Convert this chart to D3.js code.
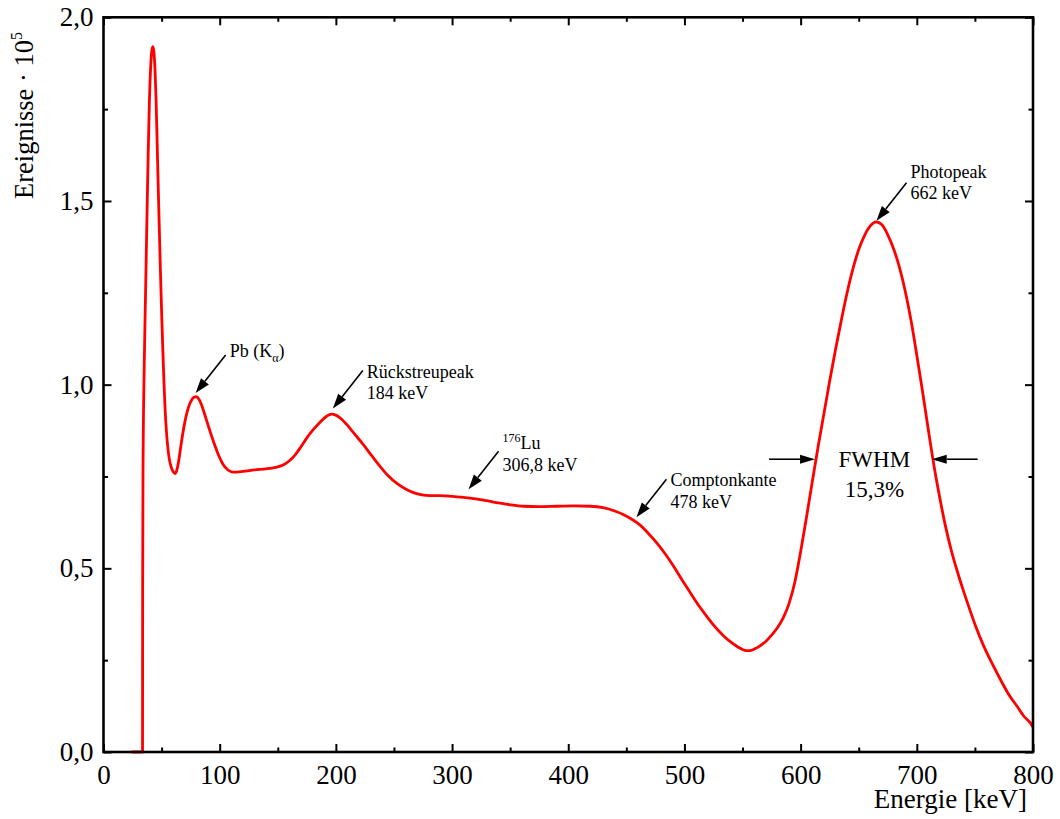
<!DOCTYPE html>
<html>
<head>
<meta charset="utf-8">
<script src="https://cdn.jsdelivr.net/npm/d3@7"></script>
<style>
  html, body { margin: 0; padding: 0; background: #fff; }
  svg text { font-family: "Liberation Serif", "Times New Roman", serif; fill: #000; }
</style>
</head>
<body>
<svg id="chart" width="1060" height="819"></svg>
<script>
// Gamma spectrum of a Cs-137 source: energy (keV) and counts (x 10^5)
const energy = [
  24, 33.6, 33.7, 34.0, 35.1, 36.2, 37.2, 38.4, 39.5, 40.6, 41.6, 42.5, 43.4, 44.3, 45.2, 46.1,
  47.0, 48.0, 49.0, 50.0, 51.0, 52.0, 53.0, 54.0, 55.0, 56.5, 58.0, 60.0, 61.6, 63.0, 64.5, 66.0,
  68.0, 70.0, 72.0, 74.0, 76.0, 78.0, 80.0, 82.0, 84.0, 86.0, 88.0, 90.0, 92.0, 94.0, 96.0, 98.0,
  100.0, 102.0, 104.0, 106.0, 108.0, 111.5, 120, 130, 140, 145, 150, 155, 160, 165, 170, 175,
  180.7, 187, 192, 196, 200, 205, 209.5, 216, 223.8, 231, 238.2, 245, 252.5, 260, 266.8, 274,
  281, 290, 300, 310, 318.5, 330, 340, 350, 361.6, 375, 390.3, 405, 419, 430, 440, 447.7,
  455, 462.1, 469, 476.5, 484, 490.8, 498, 505.2, 512, 519.5, 526, 533.8, 540, 546, 550, 553,
  556, 560, 565, 570, 575, 580, 585, 590, 595, 600, 605, 610, 615, 620, 625, 630,
  635, 640, 645, 650, 655, 660, 665, 670, 675, 680, 685, 690, 695, 700, 705, 710,
  715, 720, 725, 730, 735, 740, 745, 750, 757.8, 765, 772.2, 779, 786.6, 792, 798, 800
];
const counts = [
  0, 0, 0.45, 0.76, 1.06, 1.25, 1.42, 1.62, 1.77, 1.865, 1.91, 1.92, 1.905, 1.86, 1.78, 1.67,
  1.55, 1.43, 1.31, 1.20, 1.10, 1.01, 0.935, 0.88, 0.84, 0.80, 0.778, 0.763, 0.758, 0.766, 0.788, 0.82,
  0.862, 0.898, 0.926, 0.946, 0.959, 0.966, 0.967, 0.961, 0.948, 0.930, 0.910, 0.890, 0.870, 0.851, 0.833, 0.816,
  0.801, 0.788, 0.778, 0.771, 0.766, 0.762, 0.764, 0.768, 0.771, 0.773, 0.776, 0.782, 0.793, 0.809, 0.831, 0.855,
  0.878, 0.900, 0.914, 0.920, 0.917, 0.906, 0.891, 0.866, 0.836, 0.806, 0.777, 0.752, 0.731, 0.716, 0.706, 0.700,
  0.698, 0.698, 0.696, 0.693, 0.690, 0.684, 0.678, 0.673, 0.669, 0.668, 0.669, 0.670, 0.669, 0.665, 0.656, 0.646,
  0.633, 0.617, 0.595, 0.568, 0.537, 0.505, 0.468, 0.433, 0.400, 0.368, 0.342, 0.316, 0.299, 0.286, 0.279, 0.276,
  0.276, 0.280, 0.289, 0.301, 0.318, 0.338, 0.365, 0.404, 0.462, 0.545, 0.638, 0.735, 0.830, 0.920, 1.010, 1.095,
  1.175, 1.250, 1.315, 1.368, 1.406, 1.432, 1.443, 1.435, 1.408, 1.370, 1.320, 1.255, 1.175, 1.080, 0.980, 0.875,
  0.775, 0.688, 0.610, 0.545, 0.490, 0.440, 0.393, 0.348, 0.287, 0.240, 0.196, 0.157, 0.123, 0.098, 0.078, 0.068
];

// Axis ticks
const xMajorTicks = [0, 100, 200, 300, 400, 500, 600, 700, 800];
const xMinorTicks = [50, 150, 250, 350, 450, 550, 650, 750];
const yMajorTicks = [0, 0.5, 1.0, 1.5, 2.0];
const yMinorTicks = [0.25, 0.75, 1.25, 1.75];

// Peak annotations: label lines, arrow tip (keV, counts)
const annotationLines = [
  ["Pb (K\u03B1)"],
  ["Rückstreupeak", "184 keV"],
  ["176Lu", "306,8 keV"],
  ["Comptonkante", "478 keV"],
  ["Photopeak", "662 keV"]
];
const annotationTipE = [79.3, 197.4, 314.2, 458.7, 665.3];
const annotationTipC = [0.977, 0.935, 0.715, 0.639, 1.446];

// FWHM markers (keV) at the level where they meet the photopeak
const fwhmEdges = [612.4, 712.8];
const fwhmLevel = 0.797;
const fwhmText = ["FWHM", "15,3%"];

const svg = d3.select("#chart");
const plotL = 103.5, plotR = 1033, plotT = 17.3, plotB = 752;

const x = d3.scaleLinear().domain([0, 800]).range([plotL, plotR]);
const y = d3.scaleLinear().domain([0, 2]).range([plotB, plotT]);

const de = d3.formatLocale({ decimal: ",", thousands: ".", grouping: [3], currency: ["", "€"] });
const fmtY = de.format(".1f");

// Spectrum line
const pts = energy.map((e, i) => [e, counts[i]]);
svg.append("path")
  .datum(pts)
  .attr("fill", "none")
  .attr("stroke", "#ff0000")
  .attr("stroke-width", 2.8)
  .attr("stroke-linejoin", "round")
  .attr("d", d3.line().x(d => x(d[0])).y(d => y(d[1])).curve(d3.curveMonotoneX));

function styleAxis(g, fs) {
  g.select(".domain").remove();
  g.selectAll(".tick line").attr("stroke", "#000").attr("stroke-width", 2);
  g.selectAll(".tick text").attr("font-size", fs).attr("fill", "#000")
    .style("font-family", "'Liberation Serif', 'Times New Roman', serif");
}

// Bottom axis
svg.append("g").attr("transform", `translate(0,${plotB})`)
  .call(d3.axisBottom(x).tickValues(xMajorTicks).tickSize(-8).tickPadding(13).tickFormat(d3.format("d")))
  .call(g => styleAxis(g, 27));
svg.append("g").attr("transform", `translate(0,${plotB})`)
  .call(d3.axisBottom(x).tickValues(xMinorTicks).tickSize(-4.5).tickFormat(""))
  .call(g => styleAxis(g, 0));
// Top axis
svg.append("g").attr("transform", `translate(0,${plotT})`)
  .call(d3.axisTop(x).tickValues(xMajorTicks).tickSize(-8).tickFormat(""))
  .call(g => styleAxis(g, 0));
svg.append("g").attr("transform", `translate(0,${plotT})`)
  .call(d3.axisTop(x).tickValues(xMinorTicks).tickSize(-4.5).tickFormat(""))
  .call(g => styleAxis(g, 0));
// Left axis
svg.append("g").attr("transform", `translate(${plotL},0)`)
  .call(d3.axisLeft(y).tickValues(yMajorTicks).tickSize(-8).tickPadding(10).tickFormat(fmtY))
  .call(g => styleAxis(g, 27));
svg.append("g").attr("transform", `translate(${plotL},0)`)
  .call(d3.axisLeft(y).tickValues(yMinorTicks).tickSize(-4.5).tickFormat(""))
  .call(g => styleAxis(g, 0));
// Right axis
svg.append("g").attr("transform", `translate(${plotR},0)`)
  .call(d3.axisRight(y).tickValues(yMajorTicks).tickSize(-8).tickFormat(""))
  .call(g => styleAxis(g, 0));
svg.append("g").attr("transform", `translate(${plotR},0)`)
  .call(d3.axisRight(y).tickValues(yMinorTicks).tickSize(-4.5).tickFormat(""))
  .call(g => styleAxis(g, 0));

// Frame
svg.append("rect")
  .attr("x", plotL).attr("y", plotT)
  .attr("width", plotR - plotL).attr("height", plotB - plotT)
  .attr("fill", "none").attr("stroke", "#000").attr("stroke-width", 2.6);

// Axis titles
svg.append("text")
  .attr("x", 1027).attr("y", 808)
  .attr("text-anchor", "end")
  .attr("font-size", 27)
  .text("Energie [keV]");

const yt = svg.append("text")
  .attr("transform", "translate(33,199) rotate(-90)")
  .attr("font-size", 26.5);
yt.append("tspan").text("Ereignisse \u00B7 10");
yt.append("tspan").attr("font-size", 16).attr("dy", -11).text("5");

// Arrow helper: straight line ending in a filled head at the tip
function arrow(x1, y1, x2, y2, len, half) {
  const ang = Math.atan2(y2 - y1, x2 - x1);
  const bx = x2 - len * Math.cos(ang), by = y2 - len * Math.sin(ang);
  svg.append("line")
    .attr("x1", x1).attr("y1", y1).attr("x2", bx).attr("y2", by)
    .attr("stroke", "#000").attr("stroke-width", 1.6);
  const px = -Math.sin(ang) * half, py = Math.cos(ang) * half;
  svg.append("path")
    .attr("d", `M${x2},${y2}L${bx + px},${by + py}L${bx - px},${by - py}Z`)
    .attr("fill", "#000");
}

// Peak annotations
annotationLines.forEach((lines, i) => {
  const tx = x(annotationTipE[i]), ty = y(annotationTipC[i]);
  const sx = tx + 30, sy = ty - 38;
  arrow(sx, sy, tx, ty, 15, 5);
  const t = svg.append("text").attr("font-size", 18);
  const lx = sx + 4;
  if (i === 0) {
    t.attr("x", lx).attr("y", sy + 2);
    t.append("tspan").text("Pb (K");
    t.append("tspan").attr("font-size", 12).attr("dy", 5).text("\u03B1");
    t.append("tspan").attr("dy", -5).text(")");
  } else if (i === 2) {
    t.attr("x", lx).attr("y", sy - 2);
    t.append("tspan").attr("font-size", 12).attr("dy", -7).text("176");
    t.append("tspan").attr("dy", 7).text("Lu");
    t.append("tspan").attr("x", lx).attr("dy", 21.5).text(lines[1]);
  } else {
    const base = i === 4 ? sy - 5 : sy + 7;
    lines.forEach((s, k) => {
      t.append("tspan").attr("x", lx).attr("y", base + k * 21.5).text(s);
    });
  }
});

// FWHM markers
const fy = y(fwhmLevel);
arrow(x(fwhmEdges[0]) - 46, fy, x(fwhmEdges[0]), fy, 15, 4.5);
arrow(x(fwhmEdges[1]) + 46, fy, x(fwhmEdges[1]), fy, 15, 4.5);
const fx = (x(fwhmEdges[0]) + x(fwhmEdges[1])) / 2 + 1;
fwhmText.forEach((s, k) => {
  svg.append("text")
    .attr("x", fx).attr("y", fy + 8 + k * 30)
    .attr("text-anchor", "middle")
    .attr("font-size", 23)
    .text(s);
});
</script>
</body>
</html>
